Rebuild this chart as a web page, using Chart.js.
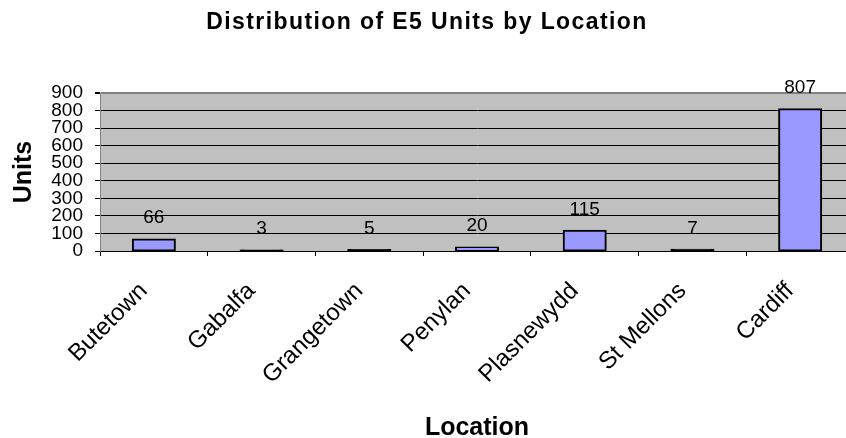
<!DOCTYPE html>
<html>
<head>
<meta charset="utf-8">
<title>Distribution of E5 Units by Location</title>
<script src="https://cdn.jsdelivr.net/npm/chart.js@4.4.1/dist/chart.umd.min.js"></script>
<style>
  html, body { margin: 0; padding: 0; background: #fff; overflow: hidden; }
  #wrap { width: 846px; height: 438px; overflow: hidden; }
  canvas { display: block; }
</style>
</head>
<body>
<div id="wrap"><canvas id="unitsChart" width="854" height="438"></canvas></div>
<script>
// Data
const locations = ['Butetown', 'Gabalfa', 'Grangetown', 'Penylan', 'Plasnewydd', 'St Mellons', 'Cardiff'];
const units = [66, 3, 5, 20, 115, 7, 807];
const unitTicks = [0, 100, 200, 300, 400, 500, 600, 700, 800, 900];

Chart.defaults.font.family = '"Liberation Sans", Arial, sans-serif';
Chart.defaults.color = '#000';

// grey plot area like the old Excel chart
const plotBackground = {
    id: 'plotBackground',
    beforeDraw(chart) {
        const { ctx, chartArea: a } = chart;
        ctx.save();
        ctx.fillStyle = '#c0c0c0';
        ctx.fillRect(a.left, a.top, a.right - a.left, a.bottom - a.top);
        ctx.restore();
    }
};

// value labels above each bar
const barValues = {
    id: 'barValues',
    afterDatasetsDraw(chart) {
        const ctx = chart.ctx;
        const meta = chart.getDatasetMeta(0);
        ctx.save();
        ctx.font = '19px "Liberation Sans", Arial, sans-serif';
        ctx.fillStyle = '#000';
        ctx.textAlign = 'center';
        ctx.textBaseline = 'alphabetic';
        meta.data.forEach((bar, i) => {
            ctx.fillText(String(units[i]), bar.x, bar.y - 16);
        });
        ctx.restore();
    }
};

// the reference title is set a bit loose, so add some letter spacing
const spacedTitle = {
    id: 'spacedTitle',
    afterInit(chart) {
        const block = chart.titleBlock;
        if (!block) return;
        const draw = block.draw.bind(block);
        block.draw = function () {
            chart.ctx.save();
            chart.ctx.letterSpacing = '1.4px';
            draw();
            chart.ctx.restore();
        };
    }
};

function barFill(c) {
    const y = c.chart.scales.y;
    if (!y) return '#9999ff';
    // very short bars are hidden under their outline
    return (y.getPixelForValue(0) - y.getPixelForValue(c.raw)) < 2 ? '#000' : '#9999ff';
}

const ctx = document.getElementById('unitsChart').getContext('2d');
const unitsChart = new Chart(ctx, {
    type: 'bar',
    data: {
        labels: locations,
        datasets: [{
            label: 'Units',
            data: units,
            backgroundColor: barFill,
            borderColor: '#000',
            borderWidth: 2,
            borderSkipped: false,
            inflateAmount: 1,
            barPercentage: 0.39,
            categoryPercentage: 1
        }]
    },
    options: {
        responsive: false,
        animation: false,
        layout: { padding: 0 },
        plugins: {
            legend: { display: false },
            tooltip: { enabled: false },
            title: {
                display: true,
                text: 'Distribution of E5 Units by Location',
                color: '#000',
                font: { size: 23, weight: 'bold', lineHeight: 1.2 },
                padding: { top: 9, bottom: 56.4 }
            }
        },
        scales: {
            x: {
                offset: true,
                grid: { offset: true, drawOnChartArea: false, tickLength: 5, tickColor: '#000' },
                border: { color: '#000', width: 1 },
                ticks: {
                    color: '#000',
                    font: { size: 24 },
                    autoSkip: false,
                    maxRotation: 45,
                    minRotation: 45,
                    padding: 21,
                    labelOffset: -10
                },
                title: {
                    display: true,
                    text: 'Location',
                    color: '#000',
                    font: { size: 25, weight: 'bold', lineHeight: 1 },
                    padding: { top: 0, bottom: -3 }
                },
                afterFit(scale) { scale.height = 187; }
            },
            y: {
                min: 0,
                max: 900,
                afterBuildTicks(axis) { axis.ticks = unitTicks.map(v => ({ value: v })); },
                grid: {
                    color: c => (c.tick && c.tick.value === 900) ? '#808080' : '#000',
                    lineWidth: c => (c.tick && c.tick.value === 900) ? 2 : 1,
                    tickLength: 5,
                    tickColor: '#000'
                },
                border: { color: '#808080', width: 1 },
                ticks: { color: '#000', font: { size: 19 }, padding: 12, autoSkip: false },
                title: {
                    display: true,
                    text: 'Units',
                    color: '#000',
                    font: { size: 25, weight: 'bold', lineHeight: 1 },
                    padding: { top: 12, bottom: 0 }
                },
                afterFit(scale) { scale.width = 100; }
            }
        }
    },
    plugins: [plotBackground, barValues, spacedTitle]
});
</script>
</body>
</html>
